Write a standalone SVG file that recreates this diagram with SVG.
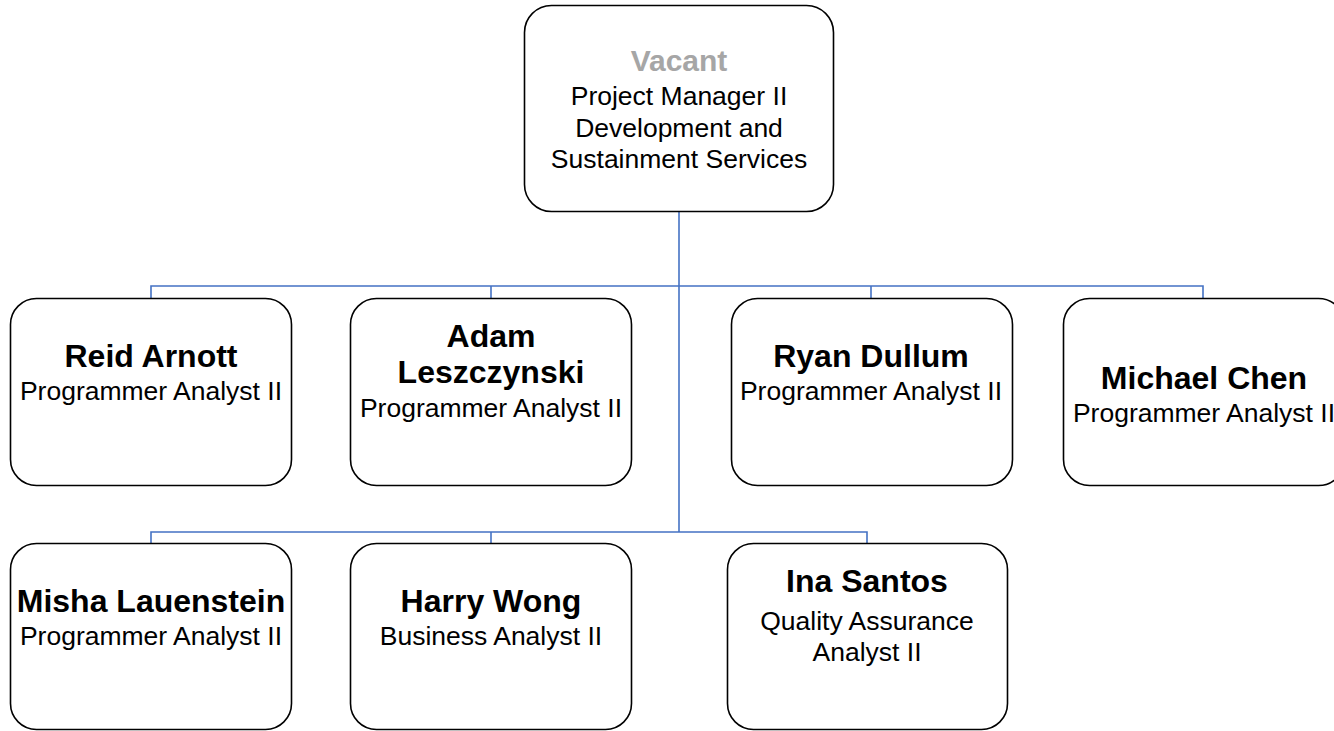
<svg xmlns="http://www.w3.org/2000/svg" width="1334" height="731" viewBox="0 0 1334 731">
<style>
.box{fill:#ffffff;stroke:#000000;stroke-width:1.6}
.conn{fill:none;stroke:#4472c4;stroke-width:1.6}
text{font-family:"Liberation Sans",Arial,sans-serif;text-anchor:middle}
.nm{font-weight:bold;font-size:32px;fill:#000000}
.vac{font-weight:bold;font-size:30px;fill:#a6a6a6}
.tt{font-size:26.5px;fill:#000000}
</style>
<rect width="1334" height="731" fill="#ffffff"/>
<g id="connectors">
<path class="conn" d="M679 212 V532"/>
<path class="conn" d="M151 298 V286 H1203 V298"/>
<path class="conn" d="M491 286 V298"/>
<path class="conn" d="M871 286 V298"/>
<path class="conn" d="M151 543 V532 H867 V543"/>
<path class="conn" d="M491 532 V543"/>
</g>
<g id="vacant">
<rect class="box" x="524.5" y="5.5" width="309" height="206" rx="27"/>
<text class="vac" x="679" y="71">Vacant</text>
<text class="tt" x="679" y="105">Project Manager II</text>
<text class="tt" x="679" y="137">Development and</text>
<text class="tt" x="679" y="168">Sustainment Services</text>
</g>
<g id="reid">
<rect class="box" x="10.5" y="298.5" width="281" height="187" rx="26"/>
<text class="nm" x="151" y="367">Reid Arnott</text>
<text class="tt" x="151" y="400">Programmer Analyst II</text>
</g>
<g id="adam">
<rect class="box" x="350.5" y="298.5" width="281" height="187" rx="26"/>
<text class="nm" x="491" y="347">Adam</text>
<text class="nm" x="491" y="383">Leszczynski</text>
<text class="tt" x="491" y="417">Programmer Analyst II</text>
</g>
<g id="ryan">
<rect class="box" x="731.5" y="298.5" width="281" height="187" rx="26"/>
<text class="nm" x="871" y="367">Ryan Dullum</text>
<text class="tt" x="871" y="400">Programmer Analyst II</text>
</g>
<g id="michael">
<rect class="box" x="1063.5" y="298.5" width="281" height="187" rx="26"/>
<text class="nm" x="1204" y="389">Michael Chen</text>
<text class="tt" x="1204" y="422">Programmer Analyst II</text>
</g>
<g id="misha">
<rect class="box" x="10.5" y="543.5" width="281" height="186" rx="26"/>
<text class="nm" x="151" y="612">Misha Lauenstein</text>
<text class="tt" x="151" y="645">Programmer Analyst II</text>
</g>
<g id="harry">
<rect class="box" x="350.5" y="543.5" width="281" height="186" rx="26"/>
<text class="nm" x="491" y="612">Harry Wong</text>
<text class="tt" x="491" y="645">Business Analyst II</text>
</g>
<g id="ina">
<rect class="box" x="727.5" y="543.5" width="280" height="186" rx="26"/>
<text class="nm" x="867" y="592">Ina Santos</text>
<text class="tt" x="867" y="630">Quality Assurance</text>
<text class="tt" x="867" y="661">Analyst II</text>
</g>
</svg>
